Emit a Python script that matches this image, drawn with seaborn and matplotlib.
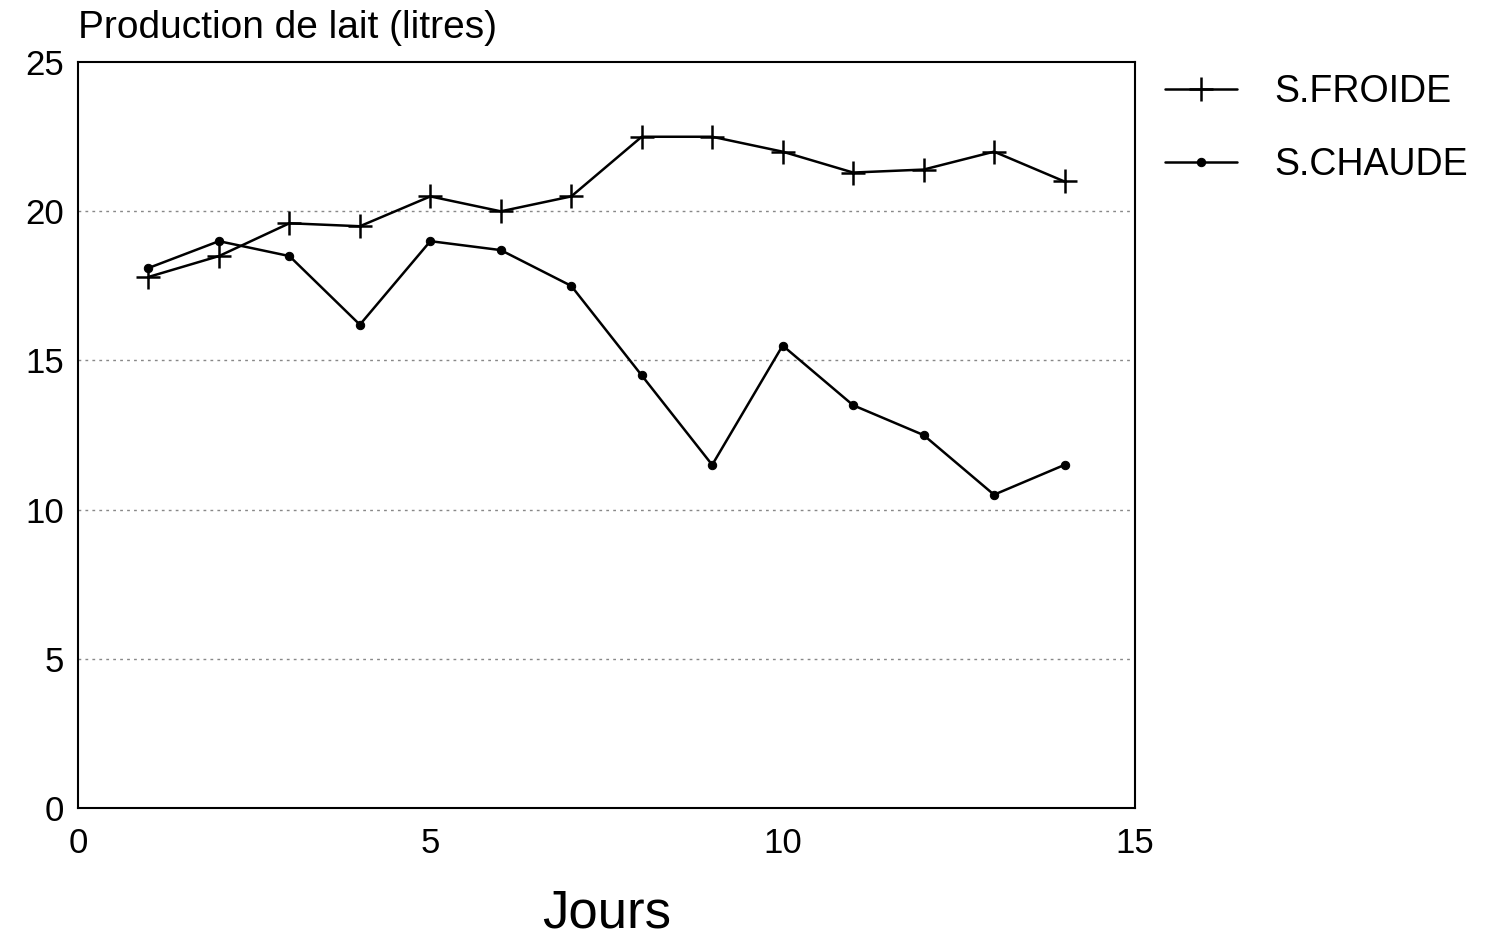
import numpy as np
import pandas as pd
import matplotlib
matplotlib.use("Agg")
import matplotlib.pyplot as plt
import seaborn as sns

# Data
jours = list(range(1, 15))
froide = [17.8, 18.5, 19.6, 19.5, 20.5, 20.0, 20.5, 22.5, 22.5, 22.0, 21.3, 21.4, 22.0, 21.0]
chaude = [18.1, 19.0, 18.5, 16.2, 19.0, 18.7, 17.5, 14.5, 11.5, 15.5, 13.5, 12.5, 10.5, 11.5]
series_names = ["S.FROIDE", "S.CHAUDE"]

df = pd.DataFrame({
    "Jours": jours * 2,
    "litres": froide + chaude,
    "serie": [series_names[0]] * len(jours) + [series_names[1]] * len(jours),
})

sns.set_theme(style="white")
plt.rcParams["font.family"] = ["Liberation Sans", "DejaVu Sans"]
plt.rcParams["text.color"] = "black"

fig, ax = plt.subplots(figsize=(14.92, 9.42), dpi=100)
fig.subplots_adjust(left=0.0523, right=0.7607, top=0.934, bottom=0.1423)

sns.lineplot(data=df[df["serie"] == series_names[0]], x="Jours", y="litres",
             color="black", lw=1.8, marker="+", markersize=17, mew=1.8,
             markeredgecolor="black", label=series_names[0], ax=ax)
sns.lineplot(data=df[df["serie"] == series_names[1]], x="Jours", y="litres",
             color="black", lw=1.8, marker="o", markersize=6,
             markeredgecolor="black", label=series_names[1], ax=ax)

ax.set_xlim(0, 15)
ax.set_ylim(0, 25)
ax.set_xticks([0, 5, 10, 15])
ax.set_yticks([0, 5, 10, 15, 20, 25])
for y in [5, 10, 15, 20]:
    ax.axhline(y, color="#888888", lw=1.0, ls=(0, (2, 3)), zorder=0)

for s in ax.spines.values():
    s.set_color("black")
    s.set_linewidth(1.5)
ax.tick_params(axis="both", direction="in", length=6, width=1.2, colors="black",
               labelsize=25, pad=10)
ax.tick_params(axis="x", pad=14)
ax.set_xlabel("Jours", fontsize=38, labelpad=20, color="black")
ax.set_ylabel("")
fig.text(0.0523, 0.96, "Production de lait (litres)", fontsize=28,
         ha="left", va="baseline", color="black")

handles, labels = ax.get_legend_handles_labels()
ax.get_legend().remove()
leg = fig.legend(handles, labels, loc="upper left", bbox_to_anchor=(0.781, 0.921),
                 frameon=False, fontsize=27, handlelength=1.9, labelspacing=0.97,
                 handletextpad=1.0, borderpad=0, borderaxespad=0)
for t in leg.get_texts():
    t.set_color("black")

fig.savefig("out.png", dpi=100)
